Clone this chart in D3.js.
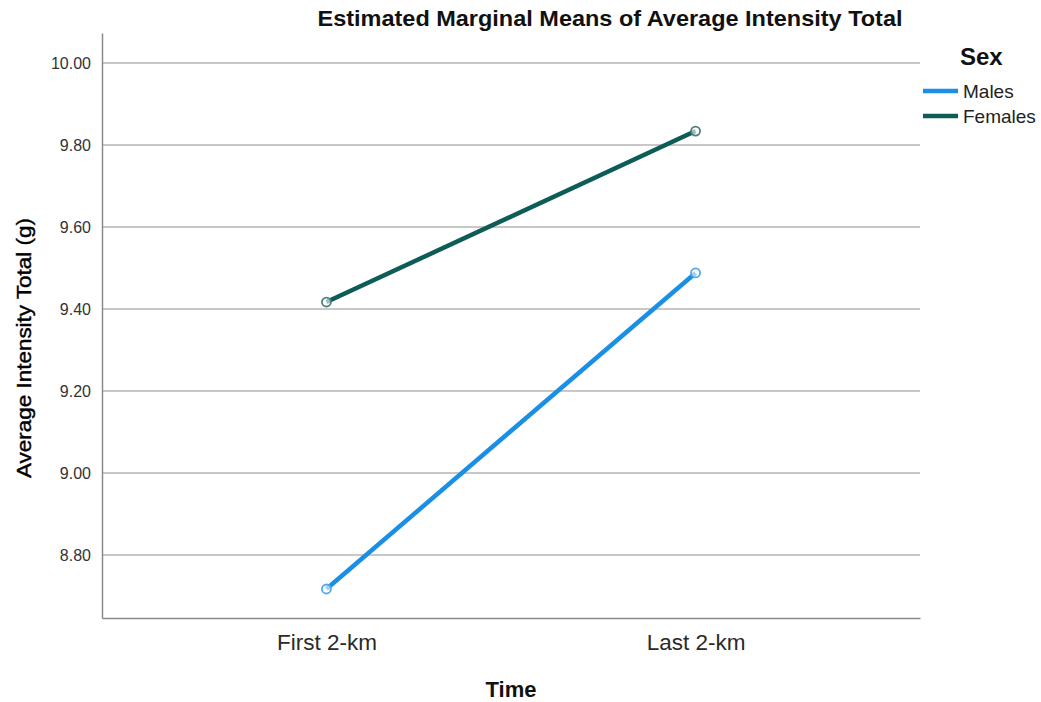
<!DOCTYPE html>
<html>
<head>
<meta charset="utf-8">
<script src="https://cdn.jsdelivr.net/npm/d3@7"></script>
<style>
  html, body { margin: 0; padding: 0; background: #fff; }
  svg { display: block; font-family: "Liberation Sans", Arial, sans-serif; }
</style>
</head>
<body>
<svg id="chart" width="1041" height="702"></svg>
<script>
// Estimated marginal means by time and sex
const times = ["First 2-km", "Last 2-km"];
const seriesNames = ["Males", "Females"];
const malesValues = [8.717, 9.488];
const femalesValues = [9.417, 9.834];
const yTicks = [8.8, 9.0, 9.2, 9.4, 9.6, 9.8, 10.0];
const colors = ["#1a8fe3", "#0d5c58"];
const markerColors = ["#52a9ea", "#4f7f7c"];

const series = [
  { name: seriesNames[0], values: malesValues, color: colors[0], marker: markerColors[0] },
  { name: seriesNames[1], values: femalesValues, color: colors[1], marker: markerColors[1] }
];

const svg = d3.select("#chart");
const plot = { left: 102, right: 920, top: 33, bottom: 618 };

const x = d3.scalePoint().domain(times).range([plot.left, plot.right]).padding(0.608);
const y = d3.scaleLinear().domain([8.6463, 10.0732]).range([plot.bottom, plot.top]);

// gridlines
svg.append("g")
  .selectAll("line")
  .data(yTicks)
  .join("line")
  .attr("x1", plot.left).attr("x2", plot.right)
  .attr("y1", d => y(d)).attr("y2", d => y(d))
  .attr("stroke", "#c8c8c8").attr("stroke-width", 2);

// y axis
const yAxis = svg.append("g")
  .attr("transform", `translate(${plot.left},0)`)
  .call(d3.axisLeft(y).tickValues(yTicks).tickFormat(d3.format(".2f")).tickSize(0).tickPadding(11));
yAxis.select(".domain").attr("stroke", "#8a8a8a").attr("stroke-width", 1.5);
yAxis.selectAll("text").attr("font-size", 16).attr("fill", "#333");

// x axis
const xAxis = svg.append("g")
  .attr("transform", `translate(0,${plot.bottom})`)
  .call(d3.axisBottom(x).tickSize(0).tickPadding(16));
xAxis.select(".domain").attr("stroke", "#8a8a8a").attr("stroke-width", 1.5);
xAxis.selectAll("text").attr("font-size", 22.5).attr("fill", "#2a2a2a");

// lines and markers
const line = d3.line().x((d, i) => x(times[i])).y(d => y(d));
series.forEach(s => {
  svg.append("path")
    .datum(s.values)
    .attr("d", line)
    .attr("fill", "none")
    .attr("stroke", s.color)
    .attr("stroke-width", 4.5);
  svg.append("g")
    .selectAll("circle")
    .data(s.values)
    .join("circle")
    .attr("cx", (d, i) => x(times[i]))
    .attr("cy", d => y(d))
    .attr("r", 4.5)
    .attr("fill", "#fff")
    .attr("fill-opacity", 0.6)
    .attr("stroke", s.marker)
    .attr("stroke-width", 1.8);
});

// title
svg.append("text")
  .attr("x", 610).attr("y", 26)
  .attr("text-anchor", "middle")
  .attr("font-size", 22).attr("font-weight", "bold")
  .attr("fill", "#111")
  .attr("textLength", 585).attr("lengthAdjust", "spacingAndGlyphs")
  .text("Estimated Marginal Means of Average Intensity Total");

// axis titles
svg.append("text")
  .attr("transform", `translate(31,348) rotate(-90)`)
  .attr("text-anchor", "middle")
  .attr("font-size", 21)
  .attr("fill", "#000")
  .attr("stroke", "#000").attr("stroke-width", 0.4)
  .attr("textLength", 260).attr("lengthAdjust", "spacingAndGlyphs")
  .text("Average Intensity Total (g)");

svg.append("text")
  .attr("x", 511).attr("y", 697)
  .attr("text-anchor", "middle")
  .attr("font-size", 22).attr("font-weight", "bold")
  .attr("fill", "#111")
  .text("Time");

// legend
const legend = svg.append("g");
legend.append("text")
  .attr("x", 960).attr("y", 65)
  .attr("font-size", 24).attr("font-weight", "bold")
  .attr("fill", "#111")
  .text("Sex");
series.forEach((s, i) => {
  const ly = 91 + i * 25;
  legend.append("line")
    .attr("x1", 923).attr("x2", 958)
    .attr("y1", ly).attr("y2", ly)
    .attr("stroke", s.color).attr("stroke-width", 4.5);
  legend.append("text")
    .attr("x", 963).attr("y", ly + 7)
    .attr("font-size", 19)
    .attr("fill", "#222")
    .text(s.name);
});
</script>
</body>
</html>
